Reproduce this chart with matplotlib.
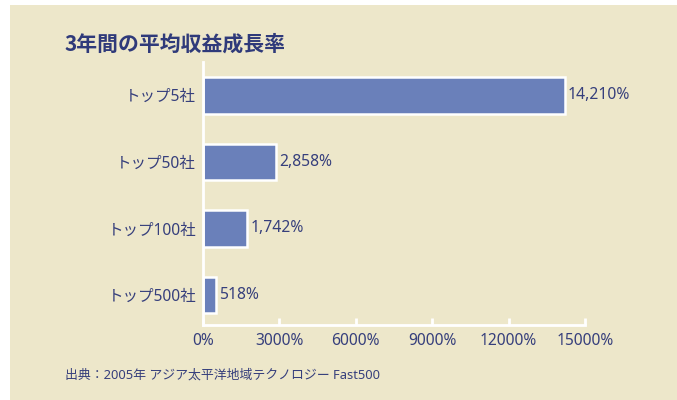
import matplotlib
matplotlib.use("Agg")
import matplotlib.pyplot as plt
from matplotlib.patches import Rectangle

plt.rcParams['font.family'] = ['Noto Sans', 'Noto Sans CJK JP', 'DejaVu Sans']

# data
categories = ["トップ5社", "トップ50社", "トップ100社", "トップ500社"]
growth = [14210, 2858, 1742, 518]
xticks = [0, 3000, 6000, 9000, 12000, 15000]

bg = "#EDE7CA"
bar_color = "#6A80BA"
text_color = "#363F7C"

fig = plt.figure(figsize=(6.77, 4.00), dpi=100, facecolor="white")
# beige panel (white margin on top and left)
fig.patches.append(Rectangle((10 / 677, 0), 1, 1 - 5 / 400, transform=fig.transFigure,
                             facecolor=bg, edgecolor="none", zorder=-10))

ax = fig.add_axes([203 / 677, 75 / 400, 382 / 677, 263 / 400])
ax.set_facecolor("none")
ax.set_zorder(2)

y = list(range(len(categories)))
bars = ax.barh(y, growth, height=0.55, color=bar_color, edgecolor="white", linewidth=1.8)

for b, v in zip(bars, growth):
    ax.text(b.get_width() + 120, b.get_y() + b.get_height() / 2, f"{v:,}%",
            va="center", ha="left", fontsize=11.3, color=text_color)

ax.set_xlim(0, 15000)
ax.set_ylim(3.45, -0.5)
ax.set_yticks(y)
ax.set_yticklabels(categories, fontsize=11.2, color=text_color)
ax.set_xticks(xticks)
ax.set_xticklabels([f"{t}%" for t in xticks], fontsize=11.2, color=text_color)

for s in ["top", "right"]:
    ax.spines[s].set_visible(False)
for s in ["left", "bottom"]:
    ax.spines[s].set_color("white")
    ax.spines[s].set_linewidth(2)

ax.tick_params(axis="y", length=0, pad=5)
ax.tick_params(axis="x", direction="in", length=5, width=2, color="white", pad=6)

fig.text(65 / 677, 1 - 44 / 400, "3年間の平均収益成長率", fontsize=15, fontweight="bold",
         family=["Noto Sans CJK JP", "DejaVu Sans"],
         color="#2F3A7A", va="center", ha="left", zorder=3)
fig.text(65 / 677, 1 - 375 / 400, "出典：2005年 アジア太平洋地域テクノロジー Fast500",
         fontsize=9.3, color=text_color, va="center", ha="left", zorder=3)

plt.savefig("out.png", dpi=100, facecolor=fig.get_facecolor())
